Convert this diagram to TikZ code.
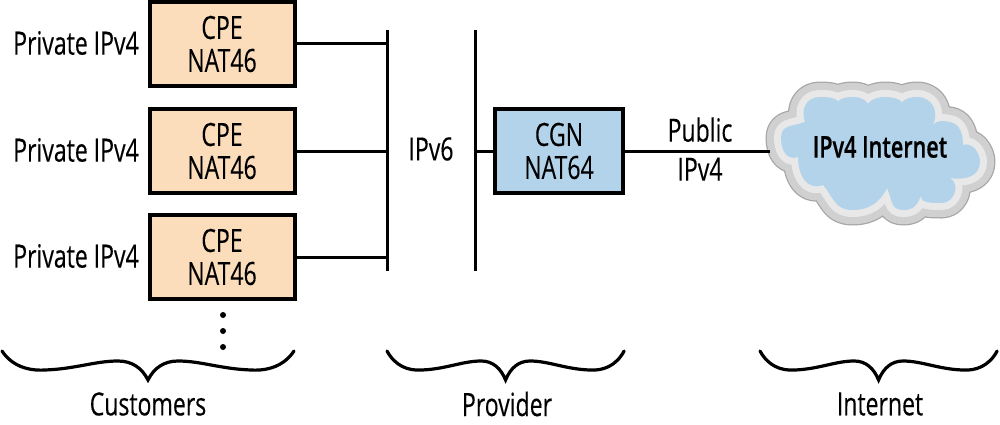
\documentclass[tikz,border=0pt]{standalone}
\usepackage{fontspec}
\setmainfont[FakeStretch=0.72,FakeBold=0.25]{Open Sans}
\newfontfamily\cloudfont[FakeStretch=0.72,FakeBold=0.5]{Open Sans Semibold}
\definecolor{peach}{HTML}{FCDDBB}
\definecolor{sky}{HTML}{B3D3EA}
\definecolor{cloudA}{HTML}{A6A6A6}
\definecolor{cloudB}{HTML}{D0D0D0}
\definecolor{cloudC}{HTML}{E8E8E8}
\tikzset{
  netbox/.style={draw=black,line width=4pt,minimum width=145pt,minimum height=84pt,inner sep=0pt,align=center,font=\fontsize{32}{33}\selectfont,text=black},
  label/.style={inner sep=0pt,align=center,font=\fontsize{32}{39}\selectfont,text=black},
  wire/.style={line width=3pt},
  bracepath/.style={line width=3.2pt,line cap=round},
  dotmark/.style={circle,fill=black,inner sep=0pt,minimum size=6pt}
}
\newcommand{\netbrace}[2]{%
  \draw[bracepath,shift={(#1,0)},xscale=#2] (2,351) .. controls (12,366) and (28,371) .. (45,370)
   .. controls (75,369) and (95,361) .. (118,361)
   .. controls (132,361) and (142,368) .. (148,380)
   .. controls (154,368) and (164,361) .. (178,361)
   .. controls (201,361) and (221,369) .. (251,370)
   .. controls (268,371) and (284,366) .. (294,351);}
\begin{document}
\begin{tikzpicture}[x=1pt,y=-1pt]
\useasboundingbox (0,0) rectangle (1000,425);
% cloud
\def\cloudshape{(798,157) to[out=200,in=270,looseness=1.2] (781,138) to[out=90,in=200,looseness=1.2] (805,122)
 to[out=110,in=180,looseness=1.2] (820,97) to[out=0,in=65,looseness=1.2] (838,107)
 to[out=115,in=180,looseness=1.2] (853,97) to[out=0,in=65,looseness=1.2] (868,112)
 to[out=115,in=180,looseness=1.2] (885,97) to[out=0,in=65,looseness=1.2] (902,109)
 to[out=115,in=180,looseness=1.2] (917,97) to[out=0,in=65,looseness=1.2] (933,125)
 to[out=50,in=170] (950,122) to[out=-10,in=90] (963,145)
 to[out=20,in=90] (980,162) to[out=270,in=-10,looseness=1.1] (950,178)
 to[out=-30,in=0,looseness=1.2] (942,203) to[out=180,in=245,looseness=1.2] (922,194)
 to[out=-115,in=0,looseness=1.2] (903,210) to[out=180,in=-65,looseness=1.2] (887,188)
 to[out=-115,in=0] (853,210) to[out=180,in=-50,looseness=1.2] (823,185)
 to[out=200,in=-90,looseness=1.2] (798,157) -- cycle}
\coordinate (cloudw) at (770,151);
\draw[cloudA,line width=31pt,line join=round] \cloudshape;
\draw[cloudB,line width=28.5pt,line join=round] \cloudshape;
\draw[cloudC,line width=14pt,line join=round] \cloudshape;
\fill[sky] \cloudshape;
\node[inner sep=0pt,font=\cloudfont\fontsize{30}{32}\selectfont,text=black] (inet) at (880,147) {IPv4 Internet};
% boxes
\node[netbox,fill=peach] (cpea) at (222,44) {CPE\\NAT46};
\node[netbox,fill=peach] (cpeb) at (222,151) {CPE\\NAT46};
\node[netbox,fill=peach] (cpec) at (222,257) {CPE\\NAT46};
\node[netbox,fill=sky,minimum width=128pt] (cgn) at (559,151) {CGN\\NAT64};
% buses
\coordinate (busat) at (387,30);
\coordinate (busab) at (387,271);
\coordinate (busbt) at (475,30);
\coordinate (busbb) at (475,271);
\coordinate (busa1) at (387,44);
\coordinate (busa2) at (387,151);
\coordinate (busa3) at (387,257);
\coordinate (busb2) at (475,151);
\draw[wire] (busat) -- (busab);
\draw[wire] (busbt) -- (busbb);
\draw[wire] (cpea.east) -- (busa1);
\draw[wire] (cpeb.east) -- (busa2);
\draw[wire] (cpec.east) -- (busa3);
\draw[wire] (busb2) -- (cgn.west);
\draw[wire] (cgn.east) -- (cloudw);
% labels
\node[label] (pa) at (76,43) {Private IPv4};
\node[label] (pb) at (76,150) {Private IPv4};
\node[label] (pc) at (76,256) {Private IPv4};
\node[label] (v6) at (431,149) {IPv6};
\node[label] (pub) at (700,149) {Public\\IPv4};
% dots
\node[dotmark] (d1) at (223,315) {};
\node[dotmark] (d2) at (223,331) {};
\node[dotmark] (d3) at (223,347) {};
% braces
\netbrace{0}{1}
\netbrace{385.4}{0.812}
\netbrace{758.4}{0.812}
\node[label] (cust) at (148,404) {Customers};
\node[label] (prov) at (507,404) {Provider};
\node[label] (net) at (880,404) {Internet};
\end{tikzpicture}
\end{document}
